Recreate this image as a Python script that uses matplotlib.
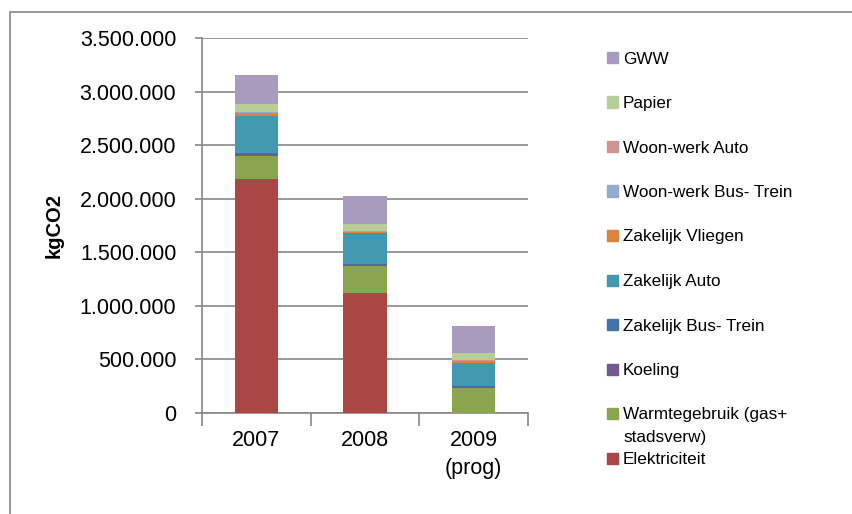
import numpy as np
import matplotlib.pyplot as plt
from matplotlib.patches import Rectangle
from matplotlib.ticker import FuncFormatter, FixedLocator

plt.rcParams['font.family'] = ['Liberation Sans', 'DejaVu Sans']

years = ['2007', '2008', '2009\n(prog)']

# stacked from bottom to top
series = ['Elektriciteit', 'Warmtegebruik (gas+\nstadsverw)', 'Koeling',
          'Zakelijk Bus- Trein', 'Zakelijk Auto', 'Zakelijk Vliegen',
          'Woon-werk Bus- Trein', 'Woon-werk Auto', 'Papier', 'GWW']
colors = ['#AA4643', '#89A54E', '#71588F', '#4572A7', '#4198AF',
          '#DB843D', '#93A9CF', '#D19392', '#B9CD96', '#A99BBD']

elektriciteit = [2185000, 1124000, 0]
warmte = [218000, 252000, 238000]
koeling = [12000, 3000, 2000]
zak_bus = [14000, 14000, 16000]
zak_auto = [343000, 287000, 212000]
zak_vliegen = [30000, 13000, 20000]
ww_bus = [3000, 2000, 2000]
ww_auto = [4000, 3000, 2000]
papier = [78000, 62000, 65000]
gww = [265000, 262000, 258000]

values = [elektriciteit, warmte, koeling, zak_bus, zak_auto, zak_vliegen,
          ww_bus, ww_auto, papier, gww]

W, H = 852, 514
fig = plt.figure(figsize=(W / 100, H / 100), dpi=100)
ax = fig.add_axes([202 / W, 1 - 413 / H, 326 / W, 375 / H])

x = np.arange(len(years))
bottom = np.zeros(len(years))
for vals, col in zip(values, colors):
    ax.bar(x, vals, width=0.4, bottom=bottom, color=col, zorder=3)
    bottom += np.array(vals)

grid_col = '#878787'
ax.set_xlim(-0.5, 2.5)
ax.set_ylim(0, 3500000)
ax.set_yticks(np.arange(0, 3500001, 500000))
ax.yaxis.set_major_formatter(FuncFormatter(lambda v, p: f'{int(v):,}'.replace(',', '.')))
ax.yaxis.grid(True, color=grid_col, lw=1.2, zorder=0)
ax.set_xticks(x)
ax.set_xticklabels(years)
for lbl in ax.get_xticklabels():
    lbl.set_linespacing(1.45)
ax.xaxis.set_minor_locator(FixedLocator([-0.5, 0.5, 1.5, 2.5]))
ax.tick_params(axis='x', which='major', length=0, pad=12, labelsize=15.5)
ax.tick_params(axis='x', which='minor', length=9, width=1.2, color=grid_col)
ax.tick_params(axis='y', length=5, width=1.2, color=grid_col, pad=13.5, labelsize=15.5)

for s in ['top', 'right']:
    ax.spines[s].set_visible(False)
for s in ['left', 'bottom']:
    ax.spines[s].set_color(grid_col)
    ax.spines[s].set_linewidth(1.2)

fig.text(54 / W, 1 - 225 / H, 'kgCO2', rotation=90, ha='center', va='center',
         fontsize=14.5, fontweight='bold')

# legend, top entry first
leg_y0, leg_dy = 57.5, 44.5
for i, (lab, col) in enumerate(zip(series[::-1], colors[::-1])):
    yc = leg_y0 + i * leg_dy
    fig.patches.append(Rectangle((607 / W, 1 - (yc + 5.5) / H), 11 / W, 11 / H,
                                 transform=fig.transFigure, color=col))
    for k, line in enumerate(lab.split('\n')):
        fig.text(623 / W, 1 - (yc + 6 + k * 22.5) / H, line, ha='left', va='baseline',
                 fontsize=12.3)

# outer chart border
fig.patches.append(Rectangle((10 / W, -0.1), 1.2, 1 - 12 / H + 0.1, transform=fig.transFigure,
                             fill=False, edgecolor=grid_col, lw=1.2))

fig.savefig('out.png', dpi=100)
